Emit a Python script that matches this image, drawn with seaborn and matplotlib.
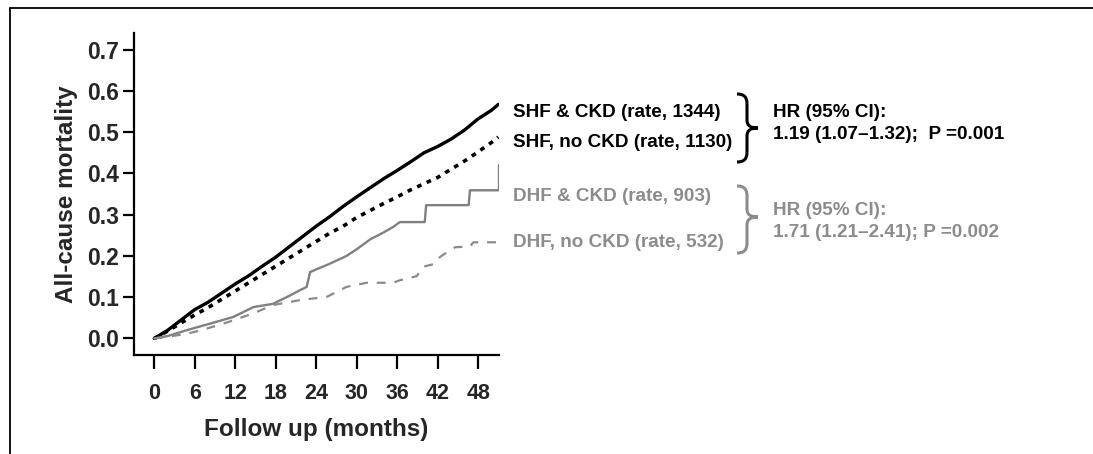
import numpy as np
import pandas as pd
import matplotlib
matplotlib.use("Agg")
import matplotlib.pyplot as plt
from matplotlib.lines import Line2D
from matplotlib.path import Path
from matplotlib.patches import PathPatch
import seaborn as sns

# follow-up months and cumulative all-cause mortality
shf_months = [0, 2, 4, 6, 8, 10, 12, 14, 16, 18, 20, 22, 24, 26, 28, 30, 32, 34,
              36, 38, 40, 42, 44, 46, 48, 50, 51]
shf_ckd = [0.0, 0.02, 0.045, 0.07, 0.088, 0.11, 0.132, 0.152, 0.175, 0.197, 0.222,
           0.247, 0.272, 0.295, 0.32, 0.343, 0.365, 0.387, 0.407, 0.428, 0.45, 0.465,
           0.483, 0.505, 0.532, 0.553, 0.567]
shf_no_ckd = [0.0, 0.018, 0.038, 0.057, 0.075, 0.095, 0.115, 0.135, 0.155, 0.175,
              0.195, 0.215, 0.235, 0.255, 0.272, 0.293, 0.31, 0.327, 0.343, 0.36,
              0.375, 0.39, 0.41, 0.43, 0.452, 0.475, 0.488]

dhf_ckd_months = [0, 2, 4.8, 8.7, 11.7, 14.7, 17.6, 20.1, 21.6, 22.6, 23.1, 26, 28.5,
                  30, 32, 34, 35.4, 36.4, 40.1, 40.3, 46.6, 46.8, 51.1, 51.1]
dhf_ckd = [0.0, 0.006, 0.02, 0.038, 0.052, 0.076, 0.084, 0.104, 0.117, 0.125, 0.161,
           0.181, 0.2, 0.216, 0.24, 0.257, 0.27, 0.282, 0.282, 0.323, 0.323, 0.359,
           0.359, 0.42]

dhf_no_ckd_months = [0, 2, 5, 8, 11, 14.7, 17.6, 21.6, 25.6, 28.5, 31.5, 35.4, 36.4,
                     38.9, 39.9, 41.4, 42.4, 43.4, 44.6, 46.8, 47.3, 51.1]
dhf_no_ckd = [0.0, 0.004, 0.012, 0.025, 0.04, 0.061, 0.081, 0.093, 0.101, 0.125,
              0.135, 0.135, 0.141, 0.151, 0.174, 0.18, 0.198, 0.209, 0.221, 0.223,
              0.233, 0.233]

x_ticks = [0, 6, 12, 18, 24, 30, 36, 42, 48]
y_ticks = [0.0, 0.1, 0.2, 0.3, 0.4, 0.5, 0.6, 0.7]

black_labels = ["SHF & CKD (rate, 1344)", "SHF, no CKD (rate, 1130)"]
grey_labels = ["DHF & CKD (rate, 903)", "DHF, no CKD (rate, 532)"]
black_hr = ["HR (95% CI):", "1.19 (1.07\u20131.32);  P =0.001"]
grey_hr = ["HR (95% CI):", "1.71 (1.21\u20132.41); P =0.002"]

GREY = "#8c8c8c"
W, H = 1093, 454

sns.set_style("ticks")
plt.rcParams["font.family"] = ["Liberation Sans", "DejaVu Sans"]
plt.rcParams["font.weight"] = "bold"

fig = plt.figure(figsize=(W / 100, H / 100), dpi=100)
ax = fig.add_axes([134 / W, 1 - 355 / H, (499 - 134) / W, (355 - 33) / H])


def px(x, y):
    # picture pixel (from top left) to figure fraction
    return x / W, 1 - y / H


sns.lineplot(x=shf_months, y=shf_ckd, ax=ax, color="black", lw=2.4,
             estimator=None, sort=False)
sns.lineplot(x=shf_months, y=shf_no_ckd, ax=ax, color="black", lw=2.6,
             linestyle=(0, (1.3, 1.6)), estimator=None, sort=False)
sns.lineplot(x=dhf_ckd_months, y=dhf_ckd, ax=ax, color="#808080", lw=1.7,
             estimator=None, sort=False)
sns.lineplot(x=dhf_no_ckd_months, y=dhf_no_ckd, ax=ax, color="#8a8a8a", lw=1.6,
             linestyle=(0, (4, 4)), estimator=None, sort=False)

ax.set_xlim(-3, 51.1)
ax.set_ylim(-0.04, 0.74)
ax.set_xticks(x_ticks)
ax.set_yticks(y_ticks)
ax.set_yticklabels([f"{v:.1f}" for v in y_ticks])
ax.tick_params(axis="x", length=10, width=1.6, pad=10, labelsize=15.5, color="black")
ax.tick_params(axis="y", length=8, width=1.6, pad=3, labelsize=16.5, color="black")
for lab in ax.get_xticklabels() + ax.get_yticklabels():
    lab.set_fontweight("bold")
for side in ["left", "bottom"]:
    ax.spines[side].set_linewidth(1.6)
    ax.spines[side].set_color("black")
sns.despine(ax=ax)
ax.set_xlabel("Follow up (months)", fontsize=17.5, fontweight="bold", labelpad=10)
ax.set_ylabel("All-cause mortality", fontsize=17.5, fontweight="bold", labelpad=6)

# group labels to the right of the curves
for text, base in zip(black_labels, [117.3, 146.7]):
    fig.text(*px(513, base), text, fontsize=13.6, fontweight="bold", color="black",
             va="baseline")
for text, base in zip(grey_labels, [200.7, 246.7]):
    fig.text(*px(513, base), text, fontsize=13.6, fontweight="bold", color=GREY,
             va="baseline")
for text, base in zip(black_hr, [117.3, 139.3]):
    fig.text(*px(773, base), text, fontsize=13.6, fontweight="bold", color="black",
             va="baseline")
for text, base in zip(grey_hr, [215, 236.7]):
    fig.text(*px(773, base), text, fontsize=13.6, fontweight="bold", color=GREY,
             va="baseline")


def brace(top, bottom, tip_y, color):
    x0, xs, xt = 737, 747, 758
    pts = [(x0, top), (x0 + 7, top), (xs, top + 3), (xs, top + 10),
           (xs, tip_y - 8),
           (xs, tip_y - 2), (xs + 4, tip_y), (xt, tip_y),
           (xs + 4, tip_y), (xs, tip_y + 2), (xs, tip_y + 8),
           (xs, bottom - 10),
           (xs, bottom - 3), (x0 + 7, bottom), (x0, bottom)]
    codes = [Path.MOVETO, Path.CURVE4, Path.CURVE4, Path.CURVE4, Path.LINETO,
             Path.CURVE4, Path.CURVE4, Path.CURVE4, Path.CURVE4, Path.CURVE4,
             Path.CURVE4, Path.LINETO, Path.CURVE4, Path.CURVE4, Path.CURVE4]
    verts = [px(x, y) for x, y in pts]
    fig.add_artist(PathPatch(Path(verts, codes), transform=fig.transFigure,
                             facecolor="none", edgecolor=color, lw=2.2))


brace(94, 162, 128, "black")
brace(186, 253, 217, GREY)

# partial frame around the panel
fig.add_artist(Line2D([10 / W, 1], [1 - 8 / H, 1 - 8 / H], color="black", lw=1.3,
                      transform=fig.transFigure))
fig.add_artist(Line2D([10 / W, 10 / W], [0, 1 - 8 / H], color="black", lw=1.3,
                      transform=fig.transFigure))

fig.savefig("out.png", dpi=100)
